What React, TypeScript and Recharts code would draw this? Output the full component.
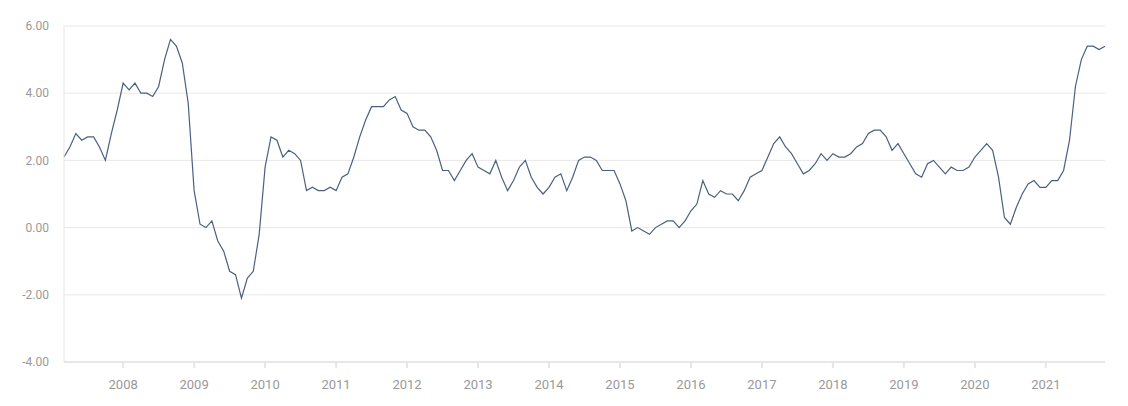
import React from "react";
import { LineChart, Line, XAxis, YAxis, CartesianGrid } from "recharts";

// monthly values, Jan 2007 .. Sep 2021
const values2007 = [2.1, 2.4, 2.8, 2.6, 2.7, 2.7, 2.4, 2.0, 2.8, 3.5, 4.3, 4.1];
const values2008 = [4.3, 4.0, 4.0, 3.9, 4.2, 5.0, 5.6, 5.4, 4.9, 3.7, 1.1, 0.1];
const values2009 = [0.0, 0.2, -0.4, -0.7, -1.3, -1.4, -2.1, -1.5, -1.3, -0.2, 1.8, 2.7];
const values2010 = [2.6, 2.1, 2.3, 2.2, 2.0, 1.1, 1.2, 1.1, 1.1, 1.2, 1.1, 1.5];
const values2011 = [1.6, 2.1, 2.7, 3.2, 3.6, 3.6, 3.6, 3.8, 3.9, 3.5, 3.4, 3.0];
const values2012 = [2.9, 2.9, 2.7, 2.3, 1.7, 1.7, 1.4, 1.7, 2.0, 2.2, 1.8, 1.7];
const values2013 = [1.6, 2.0, 1.5, 1.1, 1.4, 1.8, 2.0, 1.5, 1.2, 1.0, 1.2, 1.5];
const values2014 = [1.6, 1.1, 1.5, 2.0, 2.1, 2.1, 2.0, 1.7, 1.7, 1.7, 1.3, 0.8];
const values2015 = [-0.1, 0.0, -0.1, -0.2, 0.0, 0.1, 0.2, 0.2, 0.0, 0.2, 0.5, 0.7];
const values2016 = [1.4, 1.0, 0.9, 1.1, 1.0, 1.0, 0.8, 1.1, 1.5, 1.6, 1.7, 2.1];
const values2017 = [2.5, 2.7, 2.4, 2.2, 1.9, 1.6, 1.7, 1.9, 2.2, 2.0, 2.2, 2.1];
const values2018 = [2.1, 2.2, 2.4, 2.5, 2.8, 2.9, 2.9, 2.7, 2.3, 2.5, 2.2, 1.9];
const values2019 = [1.6, 1.5, 1.9, 2.0, 1.8, 1.6, 1.8, 1.7, 1.7, 1.8, 2.1, 2.3];
const values2020 = [2.5, 2.3, 1.5, 0.3, 0.1, 0.6, 1.0, 1.3, 1.4, 1.2, 1.2, 1.4];
const values2021 = [1.4, 1.7, 2.6, 4.2, 5.0, 5.4, 5.4, 5.3, 5.4];

const yearLabels = [
  "2008", "2009", "2010", "2011", "2012", "2013", "2014",
  "2015", "2016", "2017", "2018", "2019", "2020", "2021",
];
const yTicks = [-4, -2, 0, 2, 4, 6];

const allValues = [
  ...values2007, ...values2008, ...values2009, ...values2010, ...values2011,
  ...values2012, ...values2013, ...values2014, ...values2015, ...values2016,
  ...values2017, ...values2018, ...values2019, ...values2020, ...values2021,
];

const data = allValues.map((v, i) => ({ idx: i, value: v }));

// year labels sit two months before each January
const xTicks = yearLabels.map((_, i) => (i + 1) * 12 - 2);
const xLabel = (v: number) => yearLabels[xTicks.indexOf(v)] ?? "";

export default function App() {
  return (
    <div style={{ fontFamily: "Roboto, sans-serif" }}>
      <LineChart
        width={1112}
        height={390}
        data={data}
        margin={{ top: 18, right: 15, left: 0, bottom: 6 }}
      >
        <CartesianGrid vertical={false} stroke="#e8e8e8" />
        <XAxis
          dataKey="idx"
          type="number"
          domain={[0, allValues.length - 1]}
          ticks={xTicks}
          tickFormatter={xLabel}
          height={30}
          stroke="#e6e6e6"
          strokeWidth={2}
          tickSize={6}
          tickMargin={12}
          tick={{ fill: "#999", fontSize: 13 }}
        />
        <YAxis
          domain={[-4, 6]}
          ticks={yTicks}
          tickFormatter={(v: number) => v.toFixed(2)}
          width={56}
          stroke="#e6e6e6"
          tickLine={false}
          tickSize={6}
          tickMargin={9}
          tick={{ fill: "#999", fontSize: 12 }}
        />
        <Line
          type="linear"
          dataKey="value"
          stroke="#4a6080"
          strokeWidth={1.2}
          dot={false}
          isAnimationActive={false}
        />
      </LineChart>
    </div>
  );
}
